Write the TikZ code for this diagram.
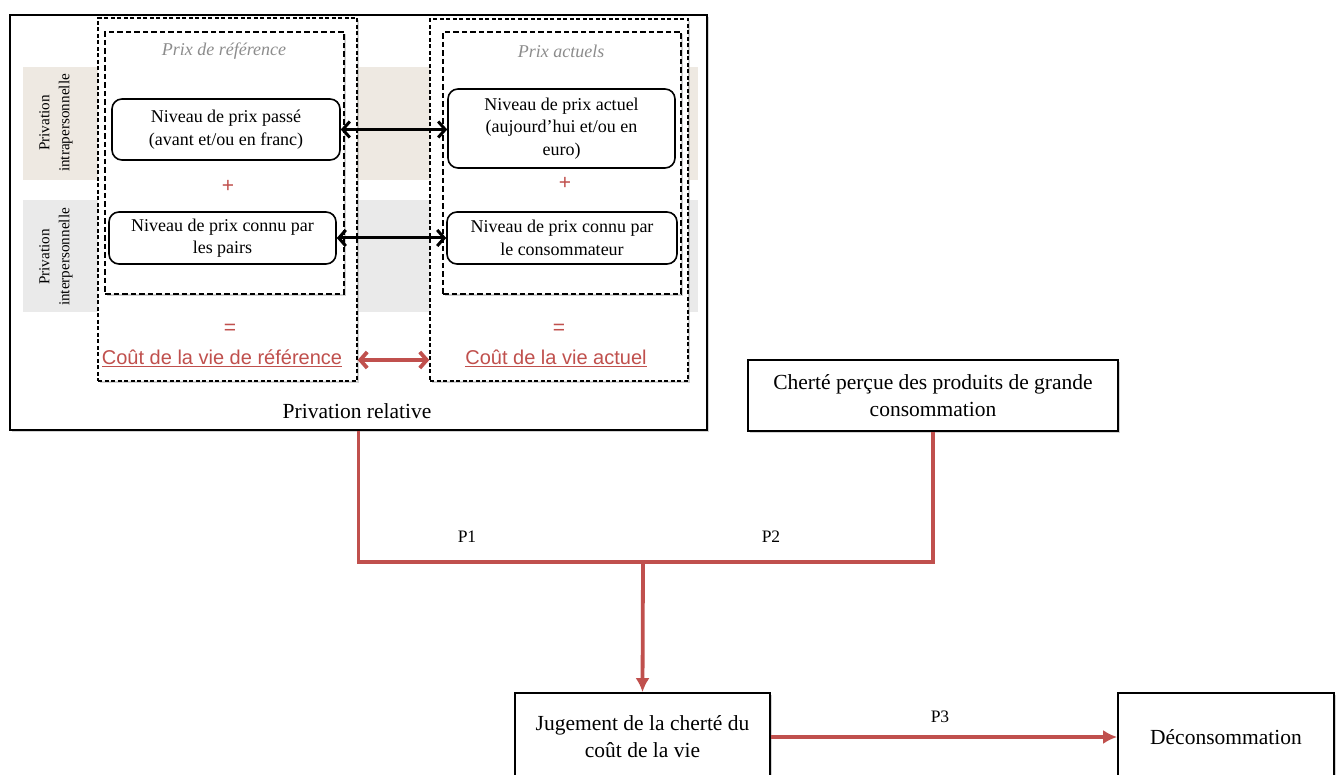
\documentclass[tikz,border=0pt]{standalone}
\usepackage{fontspec}
\setmainfont{Liberation Serif}
\setsansfont{Liberation Sans}
\usetikzlibrary{positioning,shadows,arrows.meta}
\definecolor{relclr}{RGB}{192,80,77}
\definecolor{intraclr}{RGB}{238,233,226}
\definecolor{interclr}{RGB}{234,234,234}
\definecolor{headclr}{RGB}{140,140,140}
\tikzset{ %
  ,shade/.style={drop shadow={shadow xshift=2pt, shadow yshift=-2pt, opacity=0.35}}
  ,plainbox/.style={draw, line width=1.7pt, fill=white, align=center, inner sep=0, font=\fontsize{21.5}{27}\selectfont, shade}
  ,dashbox/.style={draw, line width=1.4pt, fill=white, dash pattern=on 4pt off 2.5pt, inner sep=0, shade}
  ,innerbox/.style={draw, line width=1.4pt, fill=white, dash pattern=on 5.5pt off 3pt, inner sep=0, shade}
  ,levelbox/.style={draw, line width=1.6pt, fill=white, rounded corners=10pt, align=center, inner sep=0, font=\fontsize{18}{22.5}\selectfont}
  ,sidelbl/.style={rotate=90, align=center, font=\fontsize{15.2}{20}\selectfont}
  ,headlbl/.style={text=headclr, font=\fontsize{18}{20}\itshape}
  ,redsign/.style={text=relclr, font=\sffamily\fontsize{21}{21}\selectfont}
  ,costlbl/.style={text=relclr, font=\sffamily\fontsize{20}{22}\selectfont}
  ,plbl/.style={font=\fontsize{17.5}{20}\selectfont}
  ,pairarrow/.style={line width=3pt, {Straight Barb[length=7pt,width=16pt]}-{Straight Barb[length=7pt,width=16pt]}}
  ,relline/.style={draw=relclr, line width=3.8pt}
}
\begin{document}
\begin{tikzpicture}[x=1pt, y=-1pt]
  \useasboundingbox (0,0) rectangle (1336,775);
  % privation relative
  \node[plainbox, minimum width=697pt, minimum height=415pt] (relbox) at (358.5,222.5) {};
  \fill[intraclr] (23,67) rectangle (698,180);
  \fill[interclr] (23,200) rectangle (698,312);
  \node[sidelbl] (intra) at (56,123) {Privation\\intrapersonnelle};
  \node[sidelbl] (inter) at (56,257) {Privation\\interpersonnelle};
  \node[dashbox, minimum width=259pt, minimum height=363pt] (refouter) at (227.5,199.5) {};
  \node[dashbox, minimum width=258pt, minimum height=362pt] (actouter) at (559,200) {};
  \node[innerbox, minimum width=239pt, minimum height=262pt] (refinner) at (224.5,163) {};
  \node[innerbox, minimum width=238pt, minimum height=262pt] (actinner) at (562,163) {};
  \node[headlbl] (refhead) at (224,51) {Prix de référence};
  \node[headlbl] (acthead) at (561,51) {Prix actuels};
  \node[levelbox, minimum width=228pt, minimum height=61pt] (passe) at (226,129.5) {Niveau de prix passé\\(avant et/ou en franc)};
  \node[levelbox, minimum width=227pt, minimum height=52pt] (pairs) at (222.5,238) {Niveau de prix connu par\\les pairs};
  \node[levelbox, minimum width=227pt, minimum height=79pt] (actuel) at (561.5,128.5) {Niveau de prix actuel\\(aujourd’hui et/ou en\\euro)};
  \node[levelbox, minimum width=230pt, minimum height=52pt] (conso) at (562,238) {Niveau de prix connu par\\le consommateur};
  \node[redsign] (refplus) at (228,186) {+};
  \node[redsign] (actplus) at (565,183) {+};
  \node[redsign] (refeq) at (230,329) {=};
  \node[redsign] (acteq) at (559,329) {=};
  \node[costlbl] (refcost) at (222,358) {\underline{Coût de la vie de référence}};
  \node[costlbl] (actcost) at (556,358) {\underline{Coût de la vie actuel}};
  \node[font=\fontsize{21.5}{24}\selectfont] (reltitle) at (357,411) {Privation relative};
  \draw[pairarrow] (passe.east) -- (passe.east -| actuel.west);
  \draw[pairarrow] (pairs.east) -- (pairs.east -| conso.west);
  \draw[pairarrow, draw=relclr, line width=3.8pt] (refouter.east |- 0,360) -- (actouter.west |- 0,360);
  % consequences
  \node[plainbox, minimum width=370pt, minimum height=71pt] (cherte) at (933,395.5) {Cherté perçue des produits de grande\\consommation};
  \node[plainbox, minimum width=255pt, minimum height=88pt] (jugement) at (642.5,737) {Jugement de la cherté du\\coût de la vie};
  \node[plainbox, minimum width=216pt, minimum height=88pt] (decons) at (1226,737) {Déconsommation};
  \coordinate (junc) at (643,562);
  \draw[relline] (relbox.south) |- (junc) -| (cherte.south);
  \draw[relline, -{Latex[length=14pt,width=14pt]}] (junc) -- (jugement.north);
  \draw[relline, -{Latex[length=14pt,width=14pt]}] (jugement.east) -- (decons.west);
  \node[plbl] (p1) at (467,537) {P1};
  \node[plbl] (p2) at (771,537) {P2};
  \node[plbl] (p3) at (940,717) {P3};
\end{tikzpicture}
\end{document}
